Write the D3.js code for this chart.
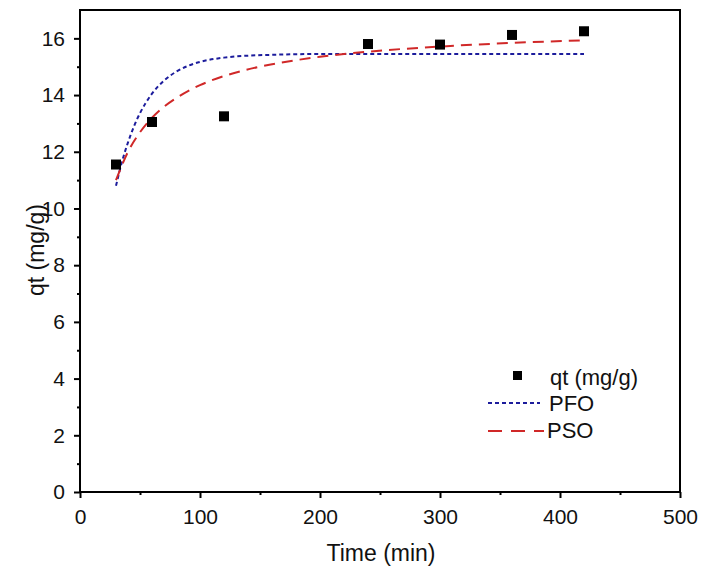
<!DOCTYPE html>
<head>
  <meta charset="utf-8">
  <script src="https://d3js.org/d3.v7.min.js"></script>
  <style>
    body { margin: 0; background: #fff; }
    text { font-family: "Liberation Sans", Arial, sans-serif; fill: #111; }
  </style>
</head>
<body>
<script>
// experimental points
var times = [30, 60, 120, 240, 300, 360, 420];
var qt = [11.55, 13.05, 13.25, 15.8, 15.78, 16.12, 16.25];

// fitted curves
var pfoTimes = [30, 35, 40, 45, 50, 60, 70, 80, 90, 100, 120, 140, 160, 180, 200, 300, 420];
var pfoValues = [10.8, 11.65, 12.33, 12.9, 13.36, 14.05, 14.51, 14.82, 15.03, 15.17, 15.32, 15.39, 15.42, 15.44, 15.45, 15.45, 15.45];
var psoTimes = [30, 40, 50, 60, 70, 80, 90, 100, 120, 150, 180, 200, 240, 300, 360, 420];
var psoValues = [11.0, 12.0, 12.69, 13.2, 13.59, 13.89, 14.14, 14.35, 14.67, 15.0, 15.23, 15.35, 15.53, 15.71, 15.84, 15.93];

var xTicks = [0, 100, 200, 300, 400, 500];
var yTicks = [0, 2, 4, 6, 8, 10, 12, 14, 16];

var svg = d3.select("body").append("svg")
  .attr("width", 702)
  .attr("height", 571);

var x = d3.scaleLinear().domain([0, 500]).range([80, 680]);
var y = d3.scaleLinear().domain([0, 17]).range([492, 10]);

// frame
svg.append("rect")
  .attr("x", 80).attr("y", 10)
  .attr("width", 600).attr("height", 482)
  .attr("fill", "none").attr("stroke", "#000").attr("stroke-width", 2);

// bottom axis
svg.append("g").attr("transform", "translate(0,492)")
  .call(d3.axisBottom(x).tickValues(xTicks).tickSize(6).tickPadding(11));
svg.append("g").attr("transform", "translate(0,492)")
  .call(d3.axisBottom(x).tickValues([50, 150, 250, 350, 450]).tickSize(3).tickFormat(""));

// left axis
svg.append("g").attr("transform", "translate(80,0)")
  .call(d3.axisLeft(y).tickValues(yTicks).tickSize(6).tickPadding(9));
svg.append("g").attr("transform", "translate(80,0)")
  .call(d3.axisLeft(y).tickValues([1, 3, 5, 7, 9, 11, 13, 15]).tickSize(3).tickFormat(""));

svg.selectAll(".domain").remove();
svg.selectAll(".tick line").attr("stroke", "#000").attr("stroke-width", 2);
svg.selectAll(".tick text")
  .style("font-size", "21px")
  .style("font-family", "Liberation Sans, Arial, sans-serif")
  .attr("fill", "#111");

// axis titles
svg.append("text")
  .attr("x", 381).attr("y", 561)
  .attr("text-anchor", "middle")
  .style("font-size", "23px")
  .text("Time (min)");

svg.append("text")
  .attr("transform", "translate(44,250) rotate(-90)")
  .attr("text-anchor", "middle")
  .style("font-size", "23px")
  .text("qt (mg/g)");

var line = d3.line()
  .x(function(d) { return x(d[0]); })
  .y(function(d) { return y(d[1]); })
  .curve(d3.curveMonotoneX);

svg.append("path")
  .datum(d3.zip(pfoTimes, pfoValues))
  .attr("d", line)
  .attr("fill", "none")
  .attr("stroke", "#1c1c9c")
  .attr("stroke-width", 2)
  .attr("stroke-dasharray", "4,3");

svg.append("path")
  .datum(d3.zip(psoTimes, psoValues))
  .attr("d", line)
  .attr("fill", "none")
  .attr("stroke", "#d02828")
  .attr("stroke-width", 2)
  .attr("stroke-dasharray", "11,7");

svg.selectAll(".pt")
  .data(d3.zip(times, qt))
  .enter().append("rect")
  .attr("class", "pt")
  .attr("x", function(d) { return x(d[0]) - 5; })
  .attr("y", function(d) { return y(d[1]) - 5; })
  .attr("width", 10).attr("height", 10)
  .attr("fill", "#000");

// legend
var leg = svg.append("g");
leg.append("rect").attr("x", 513).attr("y", 371).attr("width", 9).attr("height", 9).attr("fill", "#000");
leg.append("text").attr("x", 550).attr("y", 385).style("font-size", "22px").text("qt (mg/g)");
leg.append("line").attr("x1", 488).attr("x2", 540).attr("y1", 403).attr("y2", 403)
  .attr("stroke", "#1c1c9c").attr("stroke-width", 2).attr("stroke-dasharray", "4,3");
leg.append("text").attr("x", 549).attr("y", 411).style("font-size", "22px").text("PFO");
leg.append("line").attr("x1", 488).attr("x2", 544).attr("y1", 431).attr("y2", 431)
  .attr("stroke", "#d02828").attr("stroke-width", 2).attr("stroke-dasharray", "14,9");
leg.append("text").attr("x", 547).attr("y", 438).style("font-size", "22px").text("PSO");
</script>
</body>
